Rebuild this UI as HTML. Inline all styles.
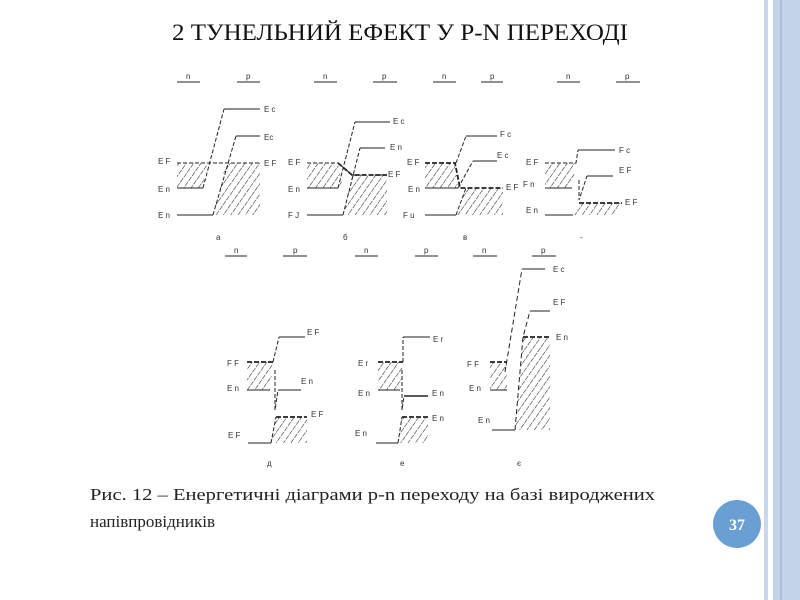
<!DOCTYPE html>
<html><head><meta charset="utf-8"><style>
body{margin:0;background:#fff}
svg{display:block}
</style></head><body>
<svg width="800" height="600" viewBox="0 0 800 600" xmlns="http://www.w3.org/2000/svg">
<defs>
<pattern id="h" width="6" height="6" patternUnits="userSpaceOnUse" patternTransform="rotate(35)">
<line x1="0" y1="0" x2="0" y2="6" stroke="#222" stroke-width="1.1" stroke-dasharray="4,1"/>
</pattern>
</defs>
<rect x="764" y="0" width="4" height="600" fill="#c8d7ea"/>
<rect x="773" y="0" width="27" height="600" fill="#c4d4e8"/>
<rect x="780" y="0" width="2" height="600" fill="#a8bfdd"/>
<text x="172" y="40" font-family="Liberation Serif, serif" font-size="23" textLength="456" lengthAdjust="spacingAndGlyphs" fill="#111">2 ТУНЕЛЬНИЙ ЕФЕКТ У P-N ПЕРЕХОДІ</text>

<g stroke="#222" stroke-width="1" fill="none">
<path d="M177 82H200M237 82H260M314 82H337M373 82H397M433 82H456M481 82H503M557 82H580M616 82H640"/>
<path d="M225 256H247M283 256H307M355 256H378M415 256H438M473 256H497M532 256H556"/>
</g>
<g font-family="Liberation Sans, sans-serif" font-size="8" fill="#333">
<text x="186" y="79">n</text><text x="246" y="79">p</text>
<text x="323" y="79">n</text><text x="382" y="79">p</text>
<text x="442" y="79">n</text><text x="490" y="79">p</text>
<text x="566" y="79">n</text><text x="625" y="79">p</text>
<text x="234" y="253">n</text><text x="293" y="253">p</text>
<text x="364" y="253">n</text><text x="424" y="253">p</text>
<text x="482" y="253">n</text><text x="541" y="253">p</text>
</g>

<g fill="url(#h)" stroke="none">
<polygon points="177,163 207,163 203,188 177,188"/>
<polygon points="226,163 260,163 260,215 213,215"/>
<polygon points="307,163 338,163 343,188 307,188"/>
<polygon points="352,175 387,175 387,215 343,215"/>
<polygon points="425,163 455,163 458,188 425,188"/>
<polygon points="466,188 503,188 503,215 456,215"/>
<polygon points="545,163 576,163 572,188 545,188"/>
<polygon points="579,203 622,203 618,215 573,215"/>
<polygon points="247,362 273,362 270,390 247,390"/>
<polygon points="276,417 307,417 307,443 271,443"/>
<polygon points="378,362 403,362 400,390 378,390"/>
<polygon points="402,417 428,417 428,443 398,443"/>
<polygon points="490,362 507,362 507,390 490,390"/>
<polygon points="523,337 550,337 550,430 515,430"/>
</g>

<g stroke="#222" stroke-width="1" fill="none">
<path d="M177 215H213M177 188H203M224 109H260M236 136H260"/>
<path d="M177 163H260M203 188L224 109M213 215L236 136" stroke-dasharray="4,2"/>
<path d="M307 215H343M307 188H338M355 122H390M360 148H385"/>
<path d="M307 163H338L352 175H387M338 188L355 122M343 215L360 148" stroke-dasharray="4,2"/>
<path d="M338 163L352 175H387" stroke-width="1.8" stroke-dasharray="5,2"/>
<path d="M425 215H456M425 188H458M466 136H497M473 161H497"/>
<path d="M456 163L466 136M458 188L473 161M456 215L466 188" stroke-dasharray="4,2"/>
<path d="M425 163H455L460 188H503" stroke-width="1.8" stroke-dasharray="5,2"/>
<path d="M545 215H573M545 188H572M578 150H615M587 176H613"/>
<path d="M545 163H576L578 150M579 180V200L587 176" stroke-dasharray="4,2"/>
<path d="M579 203H622" stroke-width="1.8" stroke-dasharray="5,2"/>
<path d="M248 443H271M247 390H270M279 337H305M278 390H301"/>
<path d="M273 362L279 337M275 370V410L278 390M271 443L276 417" stroke-dasharray="4,2"/>
<path d="M247 362H273M276 417H307" stroke-width="1.8" stroke-dasharray="5,2"/>
<path d="M376 443H398M378 390H400M403 337H430"/>
<path d="M404 396H428" stroke-width="1.6"/>
<path d="M403 362L403 337M402 370V410L404 396M398 443L402 417" stroke-dasharray="4,2"/>
<path d="M378 362H403M402 417H428" stroke-width="1.8" stroke-dasharray="5,2"/>
<path d="M492 430H515M490 390H507M522 269H545M530 311H550"/>
<path d="M505 372L522 269M515 430L523 337L530 311" stroke-dasharray="5,3"/>
<path d="M490 362H507M523 337H550" stroke-width="1.8" stroke-dasharray="5,2"/>
</g>

<g font-family="Liberation Sans, sans-serif" font-size="8" fill="#333">
<text x="264" y="112">E c</text><text x="264" y="140">Ec</text><text x="264" y="166">E F</text>
<text x="158" y="164">E F</text><text x="158" y="192">E n</text><text x="158" y="218">E n</text>
<text x="393" y="124">E c</text><text x="390" y="150">E n</text><text x="388" y="177">E F</text>
<text x="288" y="165">E F</text><text x="288" y="192">E n</text><text x="288" y="218">F J</text>
<text x="500" y="137">F c</text><text x="497" y="158">E c</text><text x="506" y="190">E F</text>
<text x="407" y="165">E F</text><text x="408" y="192">E n</text><text x="403" y="218">F u</text>
<text x="619" y="153">F c</text><text x="619" y="173">E F</text><text x="625" y="205">E F</text>
<text x="526" y="165">E F</text><text x="523" y="187">F n</text><text x="526" y="213">E n</text>
<text x="216" y="240">a</text><text x="343" y="240">б</text><text x="463" y="240">в</text><text x="580" y="240">-</text>
<text x="307" y="335">E F</text><text x="301" y="384">E n</text><text x="311" y="417">E F</text>
<text x="227" y="366">F F</text><text x="227" y="391">E n</text><text x="228" y="438">E F</text>
<text x="433" y="342">E r</text><text x="432" y="396">E n</text><text x="432" y="421">E n</text>
<text x="358" y="366">E r</text><text x="358" y="396">E n</text><text x="355" y="436">E n</text>
<text x="553" y="272">E c</text><text x="553" y="305">E F</text><text x="556" y="340">E n</text>
<text x="467" y="367">F F</text><text x="469" y="391">E n</text><text x="478" y="423">E n</text>
<text x="267" y="466">д</text><text x="400" y="466">е</text><text x="517" y="466">є</text>
</g>

<text x="90" y="500" font-family="Liberation Serif, serif" font-size="17" textLength="565" lengthAdjust="spacingAndGlyphs" fill="#222">Рис. 12 – Енергетичні діаграми p-n переходу на базі вироджених</text>
<text x="90" y="527" font-family="Liberation Serif, serif" font-size="17" fill="#222">напівпровідників</text>

<circle cx="737" cy="524" r="24" fill="#6a9fd3"/>
<text x="737" y="530" text-anchor="middle" font-family="Liberation Serif, serif" font-weight="bold" font-size="16" fill="#fff">37</text>
</svg>
</body></html>
